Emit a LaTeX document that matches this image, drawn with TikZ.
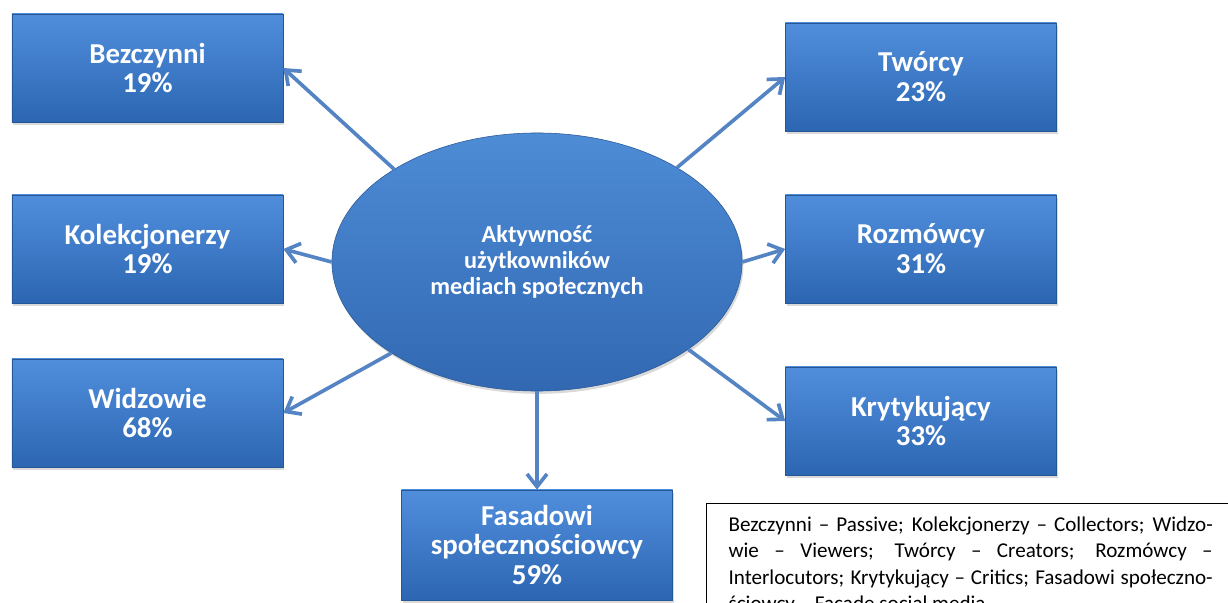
\documentclass[tikz,border=0pt]{standalone}
\usepackage{fontspec}
\setmainfont{Carlito}
\usetikzlibrary{shapes.geometric, arrows.meta, shadows}

\definecolor{boxtop}{RGB}{80,142,220}
\definecolor{boxbot}{RGB}{44,102,178}
\definecolor{elltop}{RGB}{78,140,214}
\definecolor{ellbot}{RGB}{50,104,178}
\definecolor{arrowblue}{RGB}{84,132,196}

\begin{document}
\begin{tikzpicture}[x=0.025cm, y=-0.025cm, thick]
        % Define block styles
        \tikzstyle{groupbox} = [rectangle, top color=boxtop, bottom color=boxbot, draw=boxbot!85!black, line width=0.4pt, minimum width=6.775cm, minimum height=2.7cm, text=white, align=center, font=\fontsize{20.5}{21.2}\selectfont\bfseries, drop shadow={opacity=0.3, shadow xshift=1pt, shadow yshift=-2pt}]
        \tikzstyle{centerell} = [ellipse, top color=elltop, bottom color=ellbot, draw=ellbot!85!black, line width=0.4pt, minimum width=10.25cm, minimum height=6.45cm, inner sep=0pt, text=white, align=center, font=\fontsize{17.3}{18.6}\selectfont\bfseries, drop shadow={opacity=0.3, shadow xshift=1pt, shadow yshift=-2pt}]
        \tikzstyle{legendbox} = [rectangle, draw=black, line width=0.8pt, text width=12.1cm, inner xsep=0.55cm, inner ysep=0.33cm, align=justify, font=\fontsize{15}{18.85}\selectfont]
        \tikzstyle{line} = [draw=arrowblue, line width=2.6pt, -{Straight Barb[length=0.32cm, width=0.5cm, line width=2.6pt]}]

        \useasboundingbox (0,0) rectangle (1228,603);
        \clip (0,0) rectangle (1228,603);

        % Define nodes
        \node [centerell] (ell) at (537,262) {Aktywność\\użytkowników\\mediach społecznych};
        \node [groupbox] (bez) at (147.5,68) {Bezczynni\\19\%};
        \node [groupbox] (kol) at (147.5,249) {Kolekcjonerzy\\19\%};
        \node [groupbox] (wid) at (147.5,413) {Widzowie\\68\%};
        \node [groupbox] (tw) at (921,77) {Twórcy\\23\%};
        \node [groupbox] (roz) at (921,249) {Rozmówcy\\31\%};
        \node [groupbox] (kry) at (921,421) {Krytykujący\\33\%};
        \node [groupbox, minimum height=2.75cm] (fas) at (537,545) {Fasadowi\\społecznościowcy\\59\%};
        \node [legendbox, anchor=north west] (legend) at (706,503) {Bezczynni – Passive; Kolekcjonerzy – Collectors; Widzo-\linebreak wie – Viewers; Twórcy – Creators; Rozmówcy –\linebreak Interlocutors; Krytykujący – Critics; Fasadowi społeczno-\linebreak ściowcy – Facade social media};

        % Connect nodes with paths
        \draw[line] (ell.147) -- (bez.east);
        \draw[line] (ell.west) -- (kol.east);
        \draw[line] (ell.212) -- (wid.east);
        \draw[line] (ell.34) -- (tw.west);
        \draw[line] (ell.east) -- (roz.west);
        \draw[line] (ell.-30) -- (kry.west);
        \draw[line] (ell.south) -- (fas.north);

    \end{tikzpicture}
\end{document}
